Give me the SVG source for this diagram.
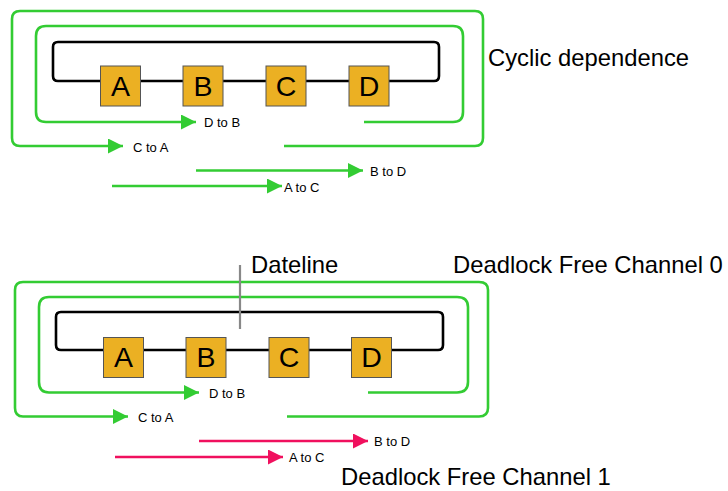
<svg xmlns="http://www.w3.org/2000/svg" width="728" height="491" viewBox="0 0 728 491">
<defs>
<marker id="ag" markerUnits="userSpaceOnUse" markerWidth="15" markerHeight="15" refX="15" refY="7.5" orient="auto"><path d="M0,0 L15,7.5 L0,15 z" fill="#33CC33"/></marker>
<marker id="ap" markerUnits="userSpaceOnUse" markerWidth="15" markerHeight="15" refX="15" refY="7.5" orient="auto"><path d="M0,0 L15,7.5 L0,15 z" fill="#F0105E"/></marker>
</defs>
<style>
.g{fill:none;stroke:#33CC33;stroke-width:2.6}
.p{fill:none;stroke:#F0105E;stroke-width:2.6}
.ring{fill:none;stroke:#000;stroke-width:2.6}
.box{fill:#EBB023;stroke:#555;stroke-width:1}
.lt{font-family:"Liberation Sans",Arial,sans-serif;font-size:28.5px;fill:#000;text-anchor:middle}
.sm{font-family:"Liberation Sans",Arial,sans-serif;font-size:13px;fill:#000}
.big{font-family:"Liberation Sans",Arial,sans-serif;font-size:23.8px;fill:#000}
</style>
<rect width="728" height="491" fill="#fff"/>
<g id="connectors">
<path class="ring" d="M58,42 H434 Q439,42 439,47 V76 Q439,81 434,81 H58 Q53,81 53,76 V47 Q53,42 58,42 Z"/>
<path class="g" d="M284,146 H475 Q483,146 483,138 V19 Q483,11 475,11 H20 Q12,11 12,19 V138 Q12,146 20,146 H123" marker-end="url(#ag)"/>
<path class="g" d="M364,122 H453 Q463,122 463,112 V36 Q463,26 453,26 H46 Q36,26 36,36 V112 Q36,122 46,122 H196" marker-end="url(#ag)"/>
<path class="g" d="M196,170.5 H363" marker-end="url(#ag)"/>
<path class="g" d="M112,186 H282" marker-end="url(#ag)"/>
<path class="ring" d="M61,312 H438 Q443,312 443,317 V345 Q443,350 438,350 H61 Q56,350 56,345 V317 Q56,312 61,312 Z"/>
<path class="g" d="M287,416.5 H479 Q488,416.5 488,408 V290 Q488,282 479,282 H23 Q15,282 15,290 V408 Q15,416.5 23,416.5 H128" marker-end="url(#ag)"/>
<path class="g" d="M368,392.5 H457 Q468,392.5 468,382 V307 Q468,297 457,297 H49 Q39,297 39,307 V382 Q39,392.5 49,392.5 H199" marker-end="url(#ag)"/>
<path class="p" d="M199,441 H368" marker-end="url(#ap)"/>
<path class="p" d="M115,457 H283" marker-end="url(#ap)"/>
<line x1="240" y1="265" x2="240" y2="329" stroke="#888" stroke-width="2.2"/>
</g>
<g id="node-A1"><rect class="box" x="100.5" y="66" width="40" height="40"/><text class="lt" x="120.5" y="95.5">A</text></g>
<g id="node-B1"><rect class="box" x="183" y="66" width="40" height="40"/><text class="lt" x="203" y="95.5">B</text></g>
<g id="node-C1"><rect class="box" x="266" y="66" width="40" height="40"/><text class="lt" x="286" y="95.5">C</text></g>
<g id="node-D1"><rect class="box" x="349" y="66" width="40" height="40"/><text class="lt" x="369" y="95.5">D</text></g>
<g id="node-A2"><rect class="box" x="103.5" y="337.5" width="40" height="40"/><text class="lt" x="123.5" y="367">A</text></g>
<g id="node-B2"><rect class="box" x="186" y="337.5" width="40" height="40"/><text class="lt" x="206" y="367">B</text></g>
<g id="node-C2"><rect class="box" x="269" y="337.5" width="40" height="40"/><text class="lt" x="289" y="367">C</text></g>
<g id="node-D2"><rect class="box" x="351.5" y="337.5" width="40" height="40"/><text class="lt" x="371.5" y="367">D</text></g>
<g id="labels">
<text class="sm" x="204" y="127">D to B</text>
<text class="sm" x="133" y="151.5">C to A</text>
<text class="sm" x="370" y="176">B to D</text>
<text class="sm" x="284" y="191.5">A to C</text>
<text class="sm" x="209" y="398">D to B</text>
<text class="sm" x="138" y="422">C to A</text>
<text class="sm" x="374" y="446">B to D</text>
<text class="sm" x="289" y="462">A to C</text>
<text class="big" x="488" y="66">Cyclic dependence</text>
<text class="big" x="251" y="273">Dateline</text>
<text class="big" x="453" y="273">Deadlock Free Channel 0</text>
<text class="big" x="341" y="485">Deadlock Free Channel 1</text>
</g>
</svg>
